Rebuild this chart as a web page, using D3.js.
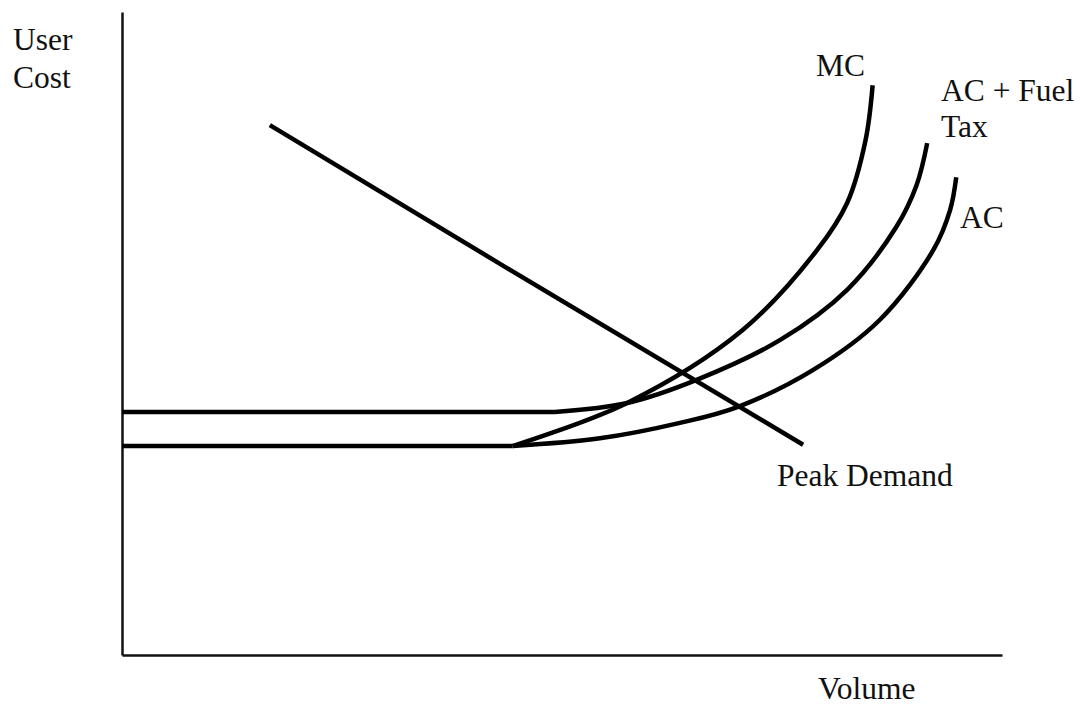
<!DOCTYPE html>
<html>
<head>
<meta charset="utf-8">
<script src="https://cdn.jsdelivr.net/npm/d3@7"></script>
<style>
  html, body { margin: 0; padding: 0; background: #fff; }
  svg text { font-family: "Liberation Serif", "Times New Roman", "DejaVu Serif", serif; fill: #111; }
</style>
</head>
<body>
<svg id="chart" width="1080" height="707"></svg>
<script>
// ---- data (abstract units: volume 0-100, user cost 0-100) ----
const seriesNames = ["MC", "AC + Fuel Tax", "AC", "Peak Demand"];
// flat part: [start volume, kink volume] at constant cost; then rising part
const mcVolume    = [44.4, 57.4, 70.5, 79.0, 82.4, 84.5, 85.3];
const mcCost      = [32.5, 39.2, 50.5, 63.0, 70.3, 80.1, 88.6];
const acTaxFlatVolume = [0, 49.2];
const acTaxFlatCost   = [37.8, 37.8];
const acTaxVolume = [49.2, 57.4, 65.3, 74.8, 82.4, 88.0, 90.3, 91.5];
const acTaxCost   = [37.8, 39.2, 42.8, 49.0, 56.8, 66.6, 73.1, 79.6];
const acFlatVolume = [0, 44.4];
const acFlatCost   = [32.5, 32.5];
const acVolume    = [44.4, 54.3, 63.4, 70.0, 78.5, 86.1, 92.2, 94.1, 94.8];
const acCost      = [32.5, 33.7, 36.1, 38.6, 44.3, 52.1, 63.0, 69.2, 74.3];
const demandVolume = [16.8, 43.0, 77.4];
const demandCost   = [82.4, 60.8, 32.7];
const xTickLabels = [];
const yTickLabels = [];

// ---- layout ----
const svg = d3.select("#chart");
const x = d3.scaleLinear().domain([0, 100]).range([122, 1002]);
const y = d3.scaleLinear().domain([0, 100]).range([655, 12]);

const zip = (a, b) => a.map((v, i) => [v, b[i]]);

// axes (domain lines only)
const gx = svg.append("g").attr("transform", `translate(0,${y(0)})`)
  .call(d3.axisBottom(x).tickValues(xTickLabels).tickSizeOuter(0));
const gy = svg.append("g").attr("transform", `translate(${x(0)},0)`)
  .call(d3.axisLeft(y).tickValues(yTickLabels).tickSizeOuter(0));
[gx, gy].forEach(g => g.select(".domain").attr("stroke", "#111").attr("stroke-width", 2.5));

const curveLine = d3.line().x(d => x(d[0])).y(d => y(d[1])).curve(d3.curveCatmullRom.alpha(0.5));
const straight = d3.line().x(d => x(d[0])).y(d => y(d[1]));

const series = [
  { pts: zip(acFlatVolume, acFlatCost), gen: straight },
  { pts: zip(acVolume, acCost), gen: curveLine },
  { pts: zip(acTaxFlatVolume, acTaxFlatCost), gen: straight },
  { pts: zip(acTaxVolume, acTaxCost), gen: curveLine },
  { pts: zip(mcVolume, mcCost), gen: curveLine },
  { pts: zip(demandVolume, demandCost), gen: straight }
];
svg.append("g").selectAll("path").data(series).join("path")
  .attr("d", d => d.gen(d.pts))
  .attr("fill", "none")
  .attr("stroke", "#000")
  .attr("stroke-width", 4.5)
  .attr("stroke-linecap", "butt")
  .attr("stroke-linejoin", "round");

// labels
const labels = [
  { t: "User", px: 13, py: 50 },
  { t: "Cost", px: 13, py: 88 },
  { t: "MC", px: 816, py: 76 },
  { t: "AC + Fuel", px: 941, py: 101 },
  { t: "Tax", px: 941, py: 137 },
  { t: "AC", px: 960, py: 228 },
  { t: "Peak Demand", px: 777, py: 486 },
  { t: "Volume", px: 818, py: 699 }
];
svg.append("g").selectAll("text").data(labels).join("text")
  .attr("x", d => d.px).attr("y", d => d.py)
  .attr("font-size", "31.5px")
  .text(d => d.t);
</script>
</body>
</html>
